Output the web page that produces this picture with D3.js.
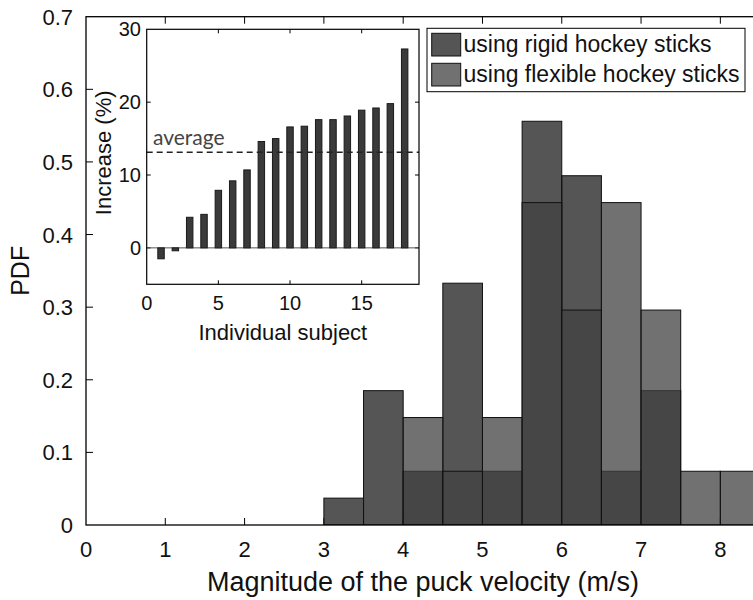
<!DOCTYPE html>
<html>
<head>
<meta charset="utf-8">
<script src="https://cdn.jsdelivr.net/npm/d3@7"></script>
<style>
  html, body { margin: 0; padding: 0; background: #fff; }
  svg { display: block; }
  text { font-family: "Liberation Sans", Arial, sans-serif; fill: #111; }
</style>
</head>
<body>
<svg id="chart" width="753" height="600"></svg>
<script>
// Histogram bins of puck velocity (m/s), bin width 0.5
const binStarts = [3, 3.5, 4, 4.5, 5, 5.5, 6, 6.5, 7, 7.5, 8];
const binWidth = 0.5;
// Probability density per bin
const rigidPDF    = [0.037, 0.185, 0.074, 0.333, 0.074, 0.556, 0.481, 0.074, 0.185, 0, 0];
const flexiblePDF = [0, 0, 0.148, 0.074, 0.148, 0.444, 0.296, 0.444, 0.296, 0.074, 0.074];
const seriesNames = ["using rigid hockey sticks", "using flexible hockey sticks"];

const xTicks = [0, 1, 2, 3, 4, 5, 6, 7, 8];
const yTicks = [0, 0.1, 0.2, 0.3, 0.4, 0.5, 0.6, 0.7];

// Inset: velocity increase per subject (%)
const subjects = d3.range(1, 19);
const increase = [-1.5, -0.4, 4.2, 4.6, 7.9, 9.2, 10.7, 14.6, 15.0, 16.6, 16.7, 17.6, 17.6, 18.1, 18.9, 19.2, 19.8, 27.3];
const insetXTicks = [0, 5, 10, 15];
const insetYTicks = [0, 10, 20, 30];

const svg = d3.select("#chart");
svg.append("rect").attr("width", 753).attr("height", 600).attr("fill", "#fff");

// ---------- main axes ----------
const M = { left: 86, right: 760, top: 16.7, bottom: 525 };
const x = d3.scaleLinear().domain([0, 8.5]).range([M.left, M.right]);
const y = d3.scaleLinear().domain([0, 0.7]).range([M.bottom, M.top]);

svg.append("clipPath").attr("id", "plotClip")
  .append("rect").attr("x", M.left).attr("y", M.top)
  .attr("width", M.right - M.left).attr("height", M.bottom - M.top);

const plot = svg.append("g").attr("clip-path", "url(#plotClip)");

// tick marks sit beneath the bars
const tickLen = 7;
const tickG = plot.append("g").attr("stroke", "#000").attr("stroke-width", 1);
xTicks.slice(1).forEach(t => {
  tickG.append("line").attr("x1", x(t)).attr("x2", x(t)).attr("y1", M.bottom).attr("y2", M.bottom - tickLen);
  tickG.append("line").attr("x1", x(t)).attr("x2", x(t)).attr("y1", M.top).attr("y2", M.top + tickLen);
});
yTicks.slice(1, -1).forEach(t => {
  tickG.append("line").attr("x1", M.left).attr("x2", M.left + tickLen).attr("y1", y(t)).attr("y2", y(t));
  tickG.append("line").attr("x1", M.right).attr("x2", M.right - tickLen).attr("y1", y(t)).attr("y2", y(t));
});

const rigidFill = "#1c1c1c", flexFill = "#424242", faceAlpha = 0.75;

function drawHist(vals, fill) {
  plot.append("g").selectAll("rect")
    .data(binStarts.map((b, i) => ({ b, v: vals[i] })).filter(d => d.v > 0))
    .join("rect")
    .attr("x", d => x(d.b))
    .attr("width", d => x(d.b + binWidth) - x(d.b))
    .attr("y", d => y(d.v))
    .attr("height", d => y(0) - y(d.v))
    .attr("fill", fill)
    .attr("fill-opacity", faceAlpha)
    .attr("stroke", "#111")
    .attr("stroke-width", 1);
}
drawHist(rigidPDF, rigidFill);
drawHist(flexiblePDF, flexFill);

// axis box
svg.append("rect")
  .attr("x", M.left).attr("y", M.top)
  .attr("width", M.right - M.left).attr("height", M.bottom - M.top)
  .attr("fill", "none").attr("stroke", "#000").attr("stroke-width", 1.3);

// tick labels
svg.append("g").selectAll("text").data(xTicks).join("text")
  .attr("x", d => x(d)).attr("y", 557)
  .attr("text-anchor", "middle").attr("font-size", 22)
  .text(d => d);
svg.append("g").selectAll("text").data(yTicks).join("text")
  .attr("x", 73).attr("y", d => y(d) + 8)
  .attr("text-anchor", "end").attr("font-size", 22)
  .text(d => d3.format(".1~f")(d));

svg.append("text")
  .attr("x", (M.left + M.right) / 2).attr("y", 591)
  .attr("text-anchor", "middle").attr("font-size", 27)
  .text("Magnitude of the puck velocity (m/s)");
svg.append("text")
  .attr("transform", `translate(29,${(M.top + M.bottom) / 2}) rotate(-90)`)
  .attr("text-anchor", "middle").attr("font-size", 25)
  .text("PDF");

// ---------- legend ----------
const lg = svg.append("g");
lg.append("rect").attr("x", 427).attr("y", 28.3).attr("width", 318).attr("height", 63.4)
  .attr("fill", "#fff").attr("stroke", "#000").attr("stroke-width", 1);
[rigidFill, flexFill].forEach((c, i) => {
  const top = 33.3 + i * 30;
  lg.append("rect").attr("x", 431.7).attr("y", top).attr("width", 29).attr("height", 22.7)
    .attr("fill", c).attr("fill-opacity", faceAlpha)
    .attr("stroke", "#111").attr("stroke-width", 1);
  lg.append("text").attr("x", 463.5).attr("y", top + 19)
    .attr("font-size", 23).text(seriesNames[i]);
});

// ---------- inset ----------
const I = { left: 146.7, right: 419, top: 29.3, bottom: 284.3 };
const ix = d3.scaleLinear().domain([0, 19]).range([I.left, I.right]);
const iy = d3.scaleLinear().domain([-5, 30]).range([I.bottom, I.top]);
const ins = svg.append("g");

ins.append("rect").attr("x", I.left).attr("y", I.top)
  .attr("width", I.right - I.left).attr("height", I.bottom - I.top).attr("fill", "#fff");

const iTick = 4;
const itg = ins.append("g").attr("stroke", "#000").attr("stroke-width", 1);
insetXTicks.slice(1).forEach(t => {
  itg.append("line").attr("x1", ix(t)).attr("x2", ix(t)).attr("y1", I.bottom).attr("y2", I.bottom - iTick);
  itg.append("line").attr("x1", ix(t)).attr("x2", ix(t)).attr("y1", I.top).attr("y2", I.top + iTick);
});
insetYTicks.slice(0, -1).forEach(t => {
  itg.append("line").attr("x1", I.left).attr("x2", I.left + iTick).attr("y1", iy(t)).attr("y2", iy(t));
  itg.append("line").attr("x1", I.right).attr("x2", I.right - iTick).attr("y1", iy(t)).attr("y2", iy(t));
});

// zero baseline
ins.append("line").attr("x1", I.left).attr("x2", I.right).attr("y1", iy(0)).attr("y2", iy(0))
  .attr("stroke", "#555").attr("stroke-width", 1);

const barW = 0.45;
ins.append("g").selectAll("rect")
  .data(subjects.map((s, i) => ({ s, v: increase[i] })))
  .join("rect")
  .attr("x", d => ix(d.s - barW / 2))
  .attr("width", d => ix(d.s + barW / 2) - ix(d.s - barW / 2))
  .attr("y", d => iy(Math.max(0, d.v)))
  .attr("height", d => Math.abs(iy(d.v) - iy(0)))
  .attr("fill", "#3a3a3a").attr("stroke", "#1a1a1a").attr("stroke-width", 1);

// average line
const avg = d3.mean(increase);
ins.append("line").attr("x1", I.left).attr("x2", I.right).attr("y1", iy(avg)).attr("y2", iy(avg))
  .attr("stroke", "#222").attr("stroke-width", 1.6).attr("stroke-dasharray", "6,4");
ins.append("text").attr("x", 153).attr("y", 145)
  .style("font-family", "Lato, 'Open Sans', sans-serif")
  .attr("font-size", 21).style("fill", "#444")
  .text("average");

ins.append("rect").attr("x", I.left).attr("y", I.top)
  .attr("width", I.right - I.left).attr("height", I.bottom - I.top)
  .attr("fill", "none").attr("stroke", "#000").attr("stroke-width", 1.2);

ins.append("g").selectAll("text").data(insetXTicks).join("text")
  .attr("x", d => ix(d)).attr("y", 310)
  .attr("text-anchor", "middle").attr("font-size", 20).text(d => d);
ins.append("g").selectAll("text").data(insetYTicks).join("text")
  .attr("x", 141).attr("y", d => iy(d) + 7)
  .attr("text-anchor", "end").attr("font-size", 20).text(d => d);

ins.append("text").attr("x", (I.left + I.right) / 2).attr("y", 340)
  .attr("text-anchor", "middle").attr("font-size", 22).text("Individual subject");
ins.append("text")
  .attr("transform", `translate(111,${(I.top + I.bottom) / 2 - 4}) rotate(-90)`)
  .attr("text-anchor", "middle").attr("font-size", 22).text("Increase (%)");
</script>
</body>
</html>
